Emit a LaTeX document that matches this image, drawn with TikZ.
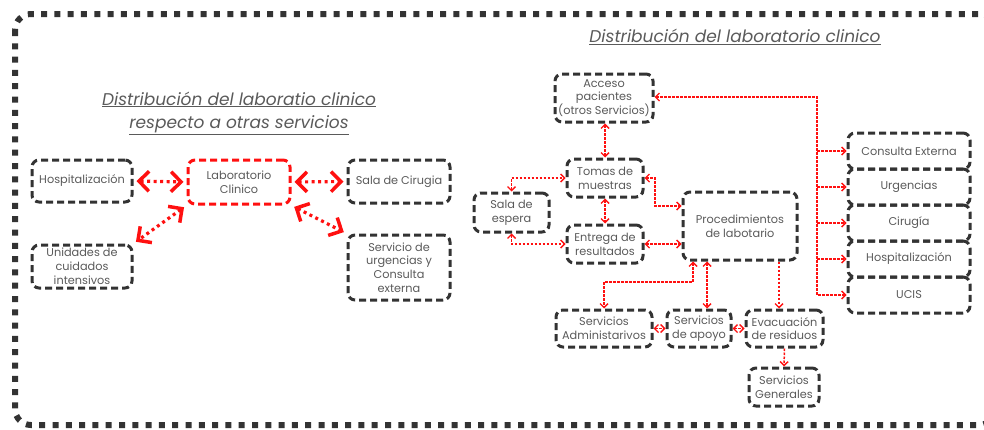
\documentclass[tikz,border=0pt]{standalone}
\usepackage{fontspec}
\setmainfont{Poppins}
\usetikzlibrary{arrows.meta,calc}
\definecolor{boxgray}{HTML}{333333}
\definecolor{txtgray}{HTML}{5A5A5A}
\definecolor{lnred}{HTML}{FF1010}
\begin{document}
\begin{tikzpicture}[x=1pt,y=-1pt,
  box/.style={draw=boxgray, line width=3pt, dash pattern=on 7pt off 4pt,
    rounded corners=7pt, align=center, text=txtgray, inner sep=0pt,
    font=\fontsize{11.3}{13.8}\selectfont},
  redbox/.style={box, draw=lnred},
  bigtip/.tip={Straight Barb[length=10pt,width=20pt,line width=3.5pt]},
  bigarr/.style={draw=lnred, line width=3.2pt, dash pattern=on 3pt off 3.5pt,
    bigtip-bigtip, shorten <=3pt, shorten >=3pt},
  smalltip/.tip={Straight Barb[length=4pt,width=8pt,line width=1.4pt]},
  link/.style={draw=lnred, line width=1.5pt, dash pattern=on 2.5pt off 1.5pt},
  both/.style={link, smalltip-smalltip},
  single/.style={link, -smalltip},
  heading/.style={text=txtgray, align=center,
    font=\fontsize{17}{23}\selectfont\itshape}
]
\useasboundingbox (0,0) rectangle (984,429);

% outer frame
\draw[boxgray, line width=6pt, dash pattern=on 6pt off 7.3pt, rounded corners=16pt]
  (15,14) rectangle (995,425);

% ---------- left: laboratory relative to other services ----------
\node[heading] (ltitle) at (239,113)
  {\underline{Distribución del laboratio clinico}\\\underline{respecto a otras servicios}};

\node[box, minimum width=100pt, minimum height=42pt] (hosp) at (82,181) {Hospitalización};
\node[redbox, minimum width=102pt, minimum height=44pt] (lab) at (239,182) {Laboratorio\\Clinico};
\node[box, minimum width=102pt, minimum height=43pt] (cir) at (399,181.5) {Sala de Cirugia};
\node[box, minimum width=100pt, minimum height=43pt] (uci) at (82,266.5)
  {Unidades de\\cuidados\\intensivos};
\node[box, minimum width=102pt, minimum height=65pt] (urg) at (399,267.5)
  {Servicio de\\urgencias y\\Consulta\\externa};

\draw[bigarr] (hosp.east) -- (lab.west);
\draw[bigarr] (lab.east) -- (cir.west);
\draw[bigarr] (lab.south west) -- (uci.north east);
\draw[bigarr] (lab.south east) -- (urg.north west);

% ---------- right: layout of the clinical laboratory ----------
\node[heading] (rtitle) at (735,37) {\underline{Distribución del laboratorio clinico}};

\node[box, minimum width=98pt, minimum height=48pt] (acc) at (604,98)
  {Acceso\\pacientes\\(otros Servicios)};
\node[box, minimum width=76pt, minimum height=38pt] (tom) at (605,178) {Tomas de\\muestras};
\node[box, minimum width=75pt, minimum height=39pt] (sala) at (511.5,212.5) {Sala de\\espera};
\node[box, minimum width=76pt, minimum height=38pt] (ent) at (605,244) {Entrega de\\resultados};
\node[box, minimum width=114pt, minimum height=68pt] (proc) at (740,226)
  {Procedimientos\\de labotario};
\node[box, minimum width=96pt, minimum height=37pt] (adm) at (604,328.5)
  {Servicios\\Administarivos};
\node[box, minimum width=64pt, minimum height=37pt] (apo) at (699,328.5) {Servicios\\de apoyo};
\node[box, minimum width=77pt, minimum height=37pt] (eva) at (784.5,328.5)
  {Evacuación\\de residuos};
\node[box, minimum width=70pt, minimum height=38pt] (gen) at (784,387) {Servicios\\Generales};

\node[box, minimum width=122pt, minimum height=36pt] (ce) at (909,151) {Consulta Externa};
\node[box, minimum width=122pt, minimum height=36pt] (ur) at (909,187) {Urgencias};
\node[box, minimum width=122pt, minimum height=36pt] (cg) at (909,223) {Cirugía};
\node[box, minimum width=122pt, minimum height=36pt] (hs) at (909,259) {Hospitalización};
\node[box, minimum width=122pt, minimum height=36pt] (uc) at (909,295) {UCIS};

% reception and sampling
\draw[both] (tom.north |- acc.south) -- (tom.north);
\draw[both] (tom.south) -- (ent.north);
\draw[both] (sala.north) |- (tom.west);
\draw[both] (sala.south) |- (ent.west);
\coordinate (tp) at (655,206);
\draw[both] (tom.east) -| (tp) -- (tp -| proc.west);
\draw[both] (ent.east) -- (ent.east -| proc.west);

% procedures to support services
\coordinate (pa) at (693,282);
\coordinate (pb) at (707,0);
\coordinate (pc) at (779,0);
\draw[both] (pa |- proc.south) -- (pa) -| (adm.north);
\draw[both] (pb |- proc.south) -- (pb |- apo.north);
\draw[single] (pc |- proc.south) -- (pc |- eva.north);
\draw[both] (adm.east) -- (apo.west);
\draw[both] (apo.east) -- (eva.west);
\draw[single] (eva.south) -- (gen.north);

% distribution bus to the hospital services
\coordinate (bus) at (817,97);
\draw[both] (bus -| acc.east) -- (bus) |- (uc.west);
\draw[single] (bus |- ce.west) -- (ce.west);
\draw[single] (bus |- ur.west) -- (ur.west);
\draw[single] (bus |- cg.west) -- (cg.west);
\draw[single] (bus |- hs.west) -- (hs.west);
\end{tikzpicture}
\end{document}
